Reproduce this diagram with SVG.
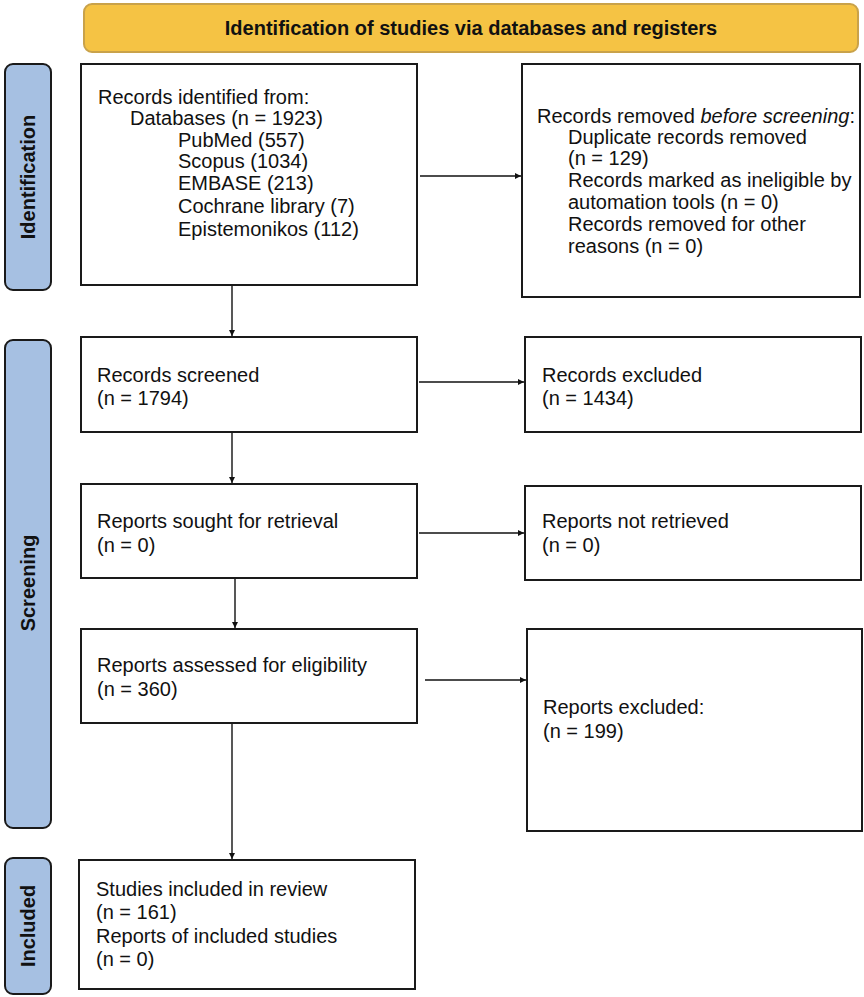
<svg xmlns="http://www.w3.org/2000/svg" width="864" height="997" viewBox="0 0 864 997">
<defs>
<style>
.box{fill:#fff;stroke:#1a1a1a;stroke-width:2}
.side{fill:#a6c0e2;stroke:#1a1a1a;stroke-width:2}
.banner{fill:#f5c344;stroke:#c9a24a;stroke-width:2}
.t{font-family:"Liberation Sans",Arial,sans-serif;font-size:20px;fill:#111}
.b{font-family:"Liberation Sans",Arial,sans-serif;font-size:20px;font-weight:bold;fill:#111}
.c{stroke:#111;stroke-width:1.4;fill:none;marker-end:url(#ah)}
</style>
<marker id="ah" viewBox="0 0 10 10" refX="10" refY="5" markerWidth="8" markerHeight="6" markerUnits="userSpaceOnUse" orient="auto">
<path d="M0,0 L10,5 L0,10 z" fill="#111"/>
</marker>
</defs>
<rect width="864" height="997" fill="#fff"/>

<g id="banner">
<rect class="banner" x="84" y="4" width="774" height="48" rx="8"/>
<text class="b" x="471" y="35" text-anchor="middle">Identification of studies via databases and registers</text>
</g>

<g id="side-identification">
<rect class="side" x="5" y="64" width="46" height="226" rx="8"/>
<text class="b" transform="translate(35,177) rotate(-90)" text-anchor="middle">Identification</text>
</g>
<g id="side-screening">
<rect class="side" x="5" y="340" width="46" height="488" rx="8"/>
<text class="b" transform="translate(35,583) rotate(-90)" text-anchor="middle">Screening</text>
</g>
<g id="side-included">
<rect class="side" x="5" y="858" width="46" height="136" rx="8"/>
<text class="b" transform="translate(35,926) rotate(-90)" text-anchor="middle">Included</text>
</g>

<g id="records-identified">
<rect class="box" x="81" y="64" width="336" height="221"/>
<text class="t" x="98" y="104">Records identified from:</text>
<text class="t" x="130" y="125">Databases (n = 1923)</text>
<text class="t" x="178" y="147">PubMed (557)</text>
<text class="t" x="178" y="168">Scopus (1034)</text>
<text class="t" x="178" y="190">EMBASE (213)</text>
<text class="t" x="178" y="213">Cochrane library (7)</text>
<text class="t" x="178" y="236">Epistemonikos (112)</text>
</g>

<g id="records-removed">
<rect class="box" x="522" y="64" width="338" height="233"/>
<text class="t" x="537" y="123">Records removed <tspan font-style="italic">before screening</tspan>:</text>
<text class="t" x="568" y="143.5">Duplicate records removed</text>
<text class="t" x="568" y="165">(n = 129)</text>
<text class="t" x="568" y="187">Records marked as ineligible by</text>
<text class="t" x="568" y="209">automation tools (n = 0)</text>
<text class="t" x="568" y="231">Records removed for other</text>
<text class="t" x="568" y="253">reasons (n = 0)</text>
</g>

<g id="records-screened">
<rect class="box" x="81" y="337" width="336" height="95"/>
<text class="t" x="97" y="382">Records screened</text>
<text class="t" x="97" y="405">(n = 1794)</text>
</g>

<g id="records-excluded">
<rect class="box" x="525" y="337" width="336" height="95"/>
<text class="t" x="542" y="382">Records excluded</text>
<text class="t" x="542" y="405">(n = 1434)</text>
</g>

<g id="reports-sought">
<rect class="box" x="81" y="484" width="336" height="94"/>
<text class="t" x="97" y="528">Reports sought for retrieval</text>
<text class="t" x="97" y="552">(n = 0)</text>
</g>

<g id="reports-not-retrieved">
<rect class="box" x="525" y="486" width="336" height="94"/>
<text class="t" x="542" y="528">Reports not retrieved</text>
<text class="t" x="542" y="552">(n = 0)</text>
</g>

<g id="reports-assessed">
<rect class="box" x="81" y="629" width="336" height="94"/>
<text class="t" x="97" y="672">Reports assessed for eligibility</text>
<text class="t" x="97" y="696">(n = 360)</text>
</g>

<g id="reports-excluded">
<rect class="box" x="527" y="629" width="335" height="202"/>
<text class="t" x="543" y="714">Reports excluded:</text>
<text class="t" x="543" y="738">(n = 199)</text>
</g>

<g id="studies-included">
<rect class="box" x="79" y="860" width="336" height="129"/>
<text class="t" x="96" y="896">Studies included in review</text>
<text class="t" x="96" y="919">(n = 161)</text>
<text class="t" x="96" y="943">Reports of included studies</text>
<text class="t" x="96" y="966">(n = 0)</text>
</g>

<g id="connectors">
<line class="c" x1="420" y1="176" x2="521" y2="176"/>
<line class="c" x1="232" y1="286" x2="232" y2="336"/>
<line class="c" x1="419" y1="382" x2="524" y2="382"/>
<line class="c" x1="232" y1="433" x2="232" y2="483"/>
<line class="c" x1="419" y1="533" x2="524" y2="533"/>
<line class="c" x1="235" y1="579" x2="235" y2="628"/>
<line class="c" x1="425" y1="680" x2="526" y2="680"/>
<line class="c" x1="232" y1="724" x2="232" y2="859"/>
</g>
</svg>
